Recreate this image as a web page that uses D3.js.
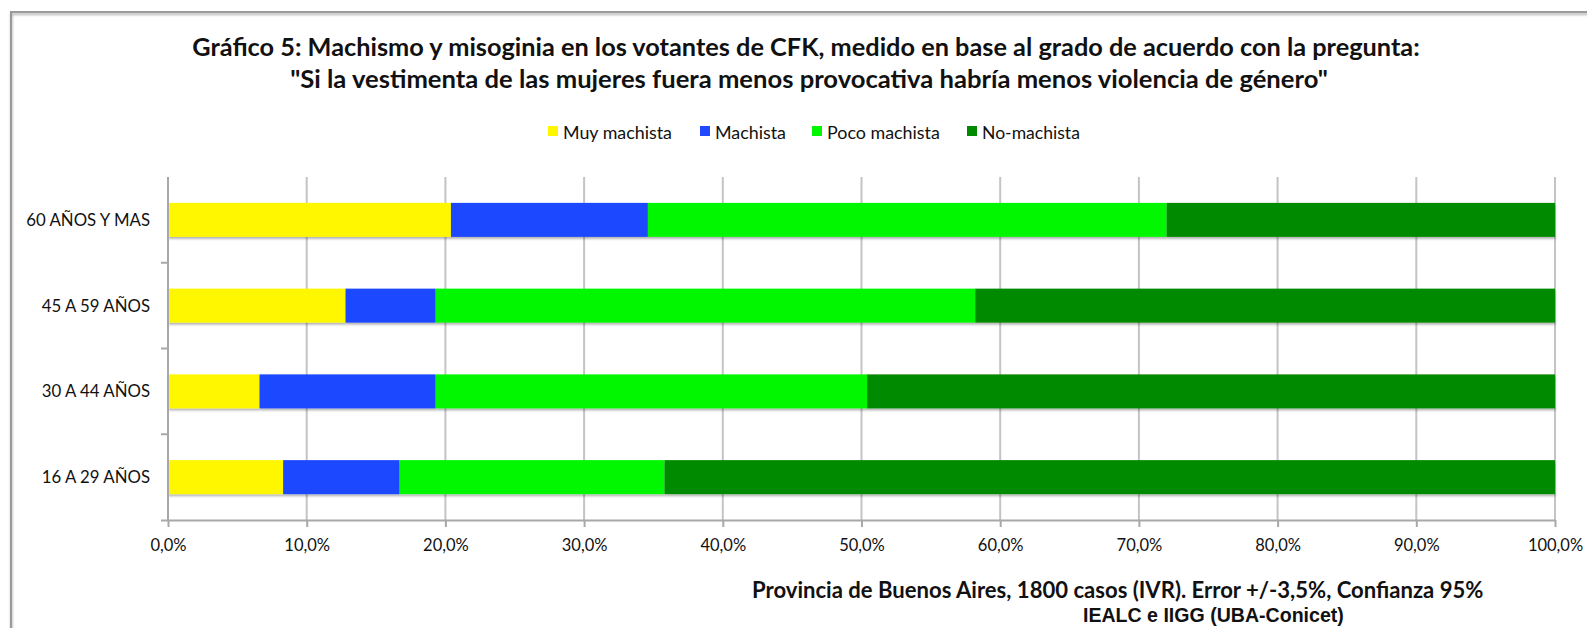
<!DOCTYPE html>
<html>
<head>
<meta charset="utf-8">
<script src="https://cdnjs.cloudflare.com/ajax/libs/d3/7.8.5/d3.min.js"></script>
<style>
  body { margin: 0; background: #fff; }
  svg { display: block; }
  text { font-family: Lato, "Open Sans", sans-serif; fill: #111; }
</style>
</head>
<body>
<svg id="chart"></svg>
<script>
// chart data
var categories = ["60 AÑOS Y MAS", "45 A 59 AÑOS", "30 A 44 AÑOS", "16 A 29 AÑOS"];
var seriesNames = ["Muy machista", "Machista", "Poco machista", "No-machista"];
var muyMachista = [20.4, 12.8, 6.6, 8.3];
var machista = [14.2, 6.5, 12.7, 8.4];
var pocoMachista = [37.4, 38.9, 31.1, 19.1];
var noMachista = [28.0, 41.8, 49.6, 64.2];
var xTicks = [0, 10, 20, 30, 40, 50, 60, 70, 80, 90, 100];
var colors = ["#fff700", "#1f48ff", "#00f700", "#008a00"];

var titleLines = [
    "Gráfico 5: Machismo y misoginia en los votantes de CFK, medido en base al grado de acuerdo con la pregunta:",
    "\"Si la vestimenta de las mujeres fuera menos provocativa habría menos violencia de género\""
];
var note1 = "Provincia de Buenos Aires, 1800 casos (IVR). Error +/-3,5%, Confianza 95%";
var note2 = "IEALC e IIGG (UBA-Conicet)";

(function() {
    var W = 1587, H = 628;
    var margin = { top: 177, right: 32, bottom: 108, left: 168 },
        width = W - margin.left - margin.right,
        height = H - margin.top - margin.bottom;

    var root = d3.select("#chart").attr("width", W).attr("height", H);

    // shadow used by the frame and the bars
    var defs = root.append("defs");
    var f = defs.append("filter").attr("id", "shadow")
        .attr("x", "-5%").attr("y", "-20%").attr("width", "110%").attr("height", "160%");
    f.append("feDropShadow").attr("dx", 0.5).attr("dy", 2).attr("stdDeviation", 1.2)
        .attr("flood-color", "#000").attr("flood-opacity", 0.3);

    // outer frame (left and top edges are visible)
    root.append("path")
        .attr("d", "M11,630 V12 H1590")
        .attr("fill", "none")
        .attr("stroke", "#9a9a9a")
        .attr("stroke-width", 2)
        .attr("filter", "url(#shadow)");

    // helper: set font size so the text spans a given width
    function fit(sel, target) {
        var fs = parseFloat(sel.style("font-size"));
        var len = sel.node().getComputedTextLength();
        sel.style("font-size", (fs * target / len) + "px");
    }

    // title
    var t1 = root.append("text").attr("x", 806).attr("y", 56)
        .attr("text-anchor", "middle").style("font-weight", "bold").style("font-size", "22px")
        .text(titleLines[0]);
    fit(t1, 1228);
    var t2 = root.append("text").attr("x", 809).attr("y", 88)
        .attr("text-anchor", "middle").style("font-weight", "bold").style("font-size", "22px")
        .text(titleLines[1]);
    fit(t2, 1038);

    var svg = root.append("g")
        .attr("transform", `translate(${margin.left}, ${margin.top})`);

    var xScale = d3.scaleLinear().domain([0, 100]).range([0, 1387]);
    var bandScale = d3.scaleBand().domain(categories).range([0, height]);

    // gridlines
    svg.append("g")
        .selectAll("line")
        .data(xTicks.slice(1))
        .enter()
        .append("line")
        .attr("x1", d => xScale(d)).attr("x2", d => xScale(d))
        .attr("y1", 0).attr("y2", height)
        .attr("stroke", "#c4c4c4")
        .attr("stroke-width", 2);

    // stacked bars
    var rows = categories.map((c, i) => ({
        cat: c,
        "Muy machista": muyMachista[i],
        "Machista": machista[i],
        "Poco machista": pocoMachista[i],
        "No-machista": noMachista[i]
    }));
    var stacked = d3.stack().keys(seriesNames)(rows);
    var colorScale = d3.scaleOrdinal().domain(seriesNames).range(colors);

    var barH = 34;
    var bars = svg.append("g").attr("filter", "url(#shadow)");
    bars.selectAll("g")
        .data(stacked)
        .enter()
        .append("g")
        .attr("fill", d => colorScale(d.key))
        .selectAll("rect")
        .data(d => d)
        .enter()
        .append("rect")
        .attr("x", d => xScale(d[0]))
        .attr("width", d => xScale(d[1]) - xScale(d[0]))
        .attr("y", d => bandScale(d.data.cat) + bandScale.bandwidth() / 2 - barH / 2)
        .attr("height", barH);

    // x axis
    var xAxis = svg.append("g")
        .attr("transform", `translate(0, ${height})`)
        .call(d3.axisBottom(xScale).tickValues(xTicks).tickSize(7).tickPadding(12)
            .tickFormat(d => d.toFixed(1).replace(".", ",") + "%"));
    xAxis.select(".domain").attr("d", `M-7,0.5H${xScale(100)}`).attr("stroke", "#a8a8a8").attr("stroke-width", 2);
    xAxis.selectAll(".tick line").attr("stroke", "#a8a8a8").attr("stroke-width", 2);
    xAxis.selectAll(".tick text").style("font-size", "16.5px").attr("fill", "#111")
        .style("font-family", "Lato, sans-serif");

    // y axis: line with ticks between the categories
    var yAxis = svg.append("g");
    yAxis.append("line").attr("x1", 0).attr("x2", 0).attr("y1", 0).attr("y2", height)
        .attr("stroke", "#a8a8a8").attr("stroke-width", 2);
    yAxis.selectAll("line.sep")
        .data(categories.slice(1))
        .enter()
        .append("line")
        .attr("class", "sep")
        .attr("x1", -7).attr("x2", 0)
        .attr("y1", d => bandScale(d)).attr("y2", d => bandScale(d))
        .attr("stroke", "#a8a8a8").attr("stroke-width", 2);
    yAxis.selectAll("text")
        .data(categories)
        .enter()
        .append("text")
        .attr("x", -18)
        .attr("y", d => bandScale(d) + bandScale.bandwidth() / 2)
        .attr("dy", "0.35em")
        .attr("text-anchor", "end")
        .style("font-size", "16.8px")
        .text(d => d);

    // legend
    var legendX = [548, 700, 812, 967];
    var legendW = [109, 71, 113, 98];
    var legend = root.append("g");
    seriesNames.forEach((s, i) => {
        legend.append("rect")
            .attr("x", legendX[i]).attr("y", 126)
            .attr("width", 10).attr("height", 10)
            .attr("fill", colors[i]);
        var lt = legend.append("text")
            .attr("x", legendX[i] + 15).attr("y", 134)
            .attr("dy", "0.3em")
            .style("font-size", "16px")
            .text(s);
        fit(lt, legendW[i]);
    });

    // source notes
    var n1 = root.append("text").attr("x", 752).attr("y", 598)
        .style("font-weight", "bold").style("font-size", "14px").text(note1);
    fit(n1, 732);
    var n2 = root.append("text").attr("x", 1083).attr("y", 622)
        .style("font-family", "'Liberation Sans', Arial, sans-serif")
        .style("font-weight", "bold").style("font-size", "16px").text(note2);
    fit(n2, 261);
})();
</script>
</body>
</html>
